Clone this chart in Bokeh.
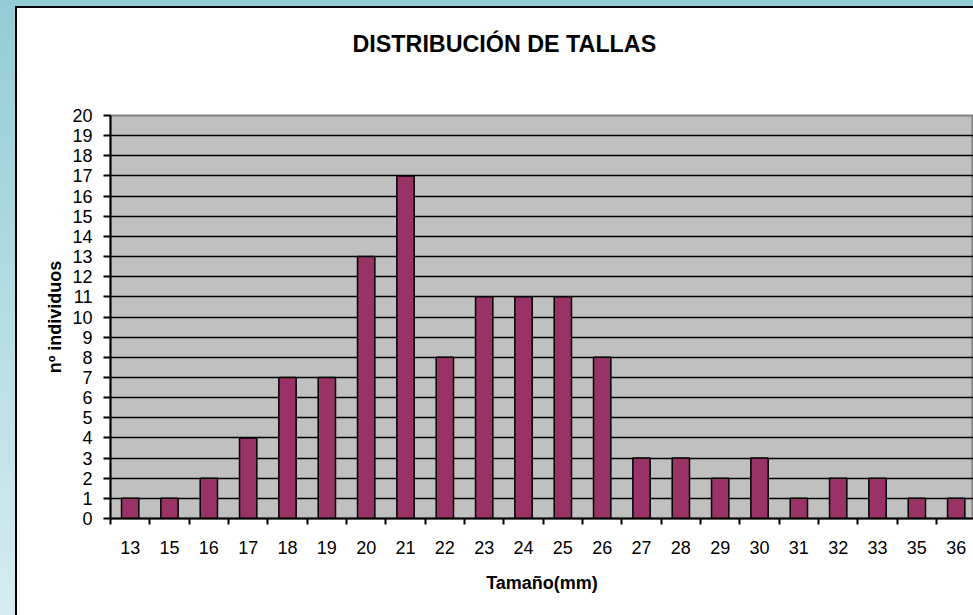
from bokeh.plotting import figure
from bokeh.models import Range1d, FixedTicker, Div, CustomJSTickFormatter, Title
from bokeh.layouts import row, column
from bokeh.embed import file_html
from bokeh.resources import INLINE

# ---- data ----
sizes = ["13", "15", "16", "17", "18", "19", "20", "21", "22", "23", "24",
         "25", "26", "27", "28", "29", "30", "31", "32", "33", "35", "36"]
counts = [1, 1, 2, 4, 7, 7, 13, 17, 8, 11, 11, 11, 8, 3, 3, 2, 3, 1, 2, 2, 1, 1]
y_ticks = list(range(0, 21))

title_text = "DISTRIBUCIÓN DE TALLAS"
x_title = "Tamaño(mm)"
y_title = "nº individuos"

FONT = "Liberation Sans"
n = len(sizes)
centers = [i + 0.5 for i in range(n)]
bounds = list(range(n + 1))

p = figure(width=956, height=607, output_backend="svg", toolbar_location=None,
           x_range=Range1d(0, 21.94), y_range=Range1d(0, 20),
           min_border_left=93, min_border_right=0, min_border_top=106,
           min_border_bottom=97)

p.background_fill_color = "#C0C0C0"
p.border_fill_color = "white"
p.outline_line_color = "#808080"
p.outline_line_width = 2

# spacer between the frame and the title (nearest the frame)
p.add_layout(Title(text=" ", text_font_size="1px", standoff=35), "above")

# main title (outermost)
p.title.text = title_text
p.title.align = "left"
p.title.offset = 242
p.title.standoff = 41
p.title.text_font = FONT
p.title.text_font_size = "23.3px"
p.title.text_font_style = "bold"
p.title.text_color = "black"

# bars
p.vbar(x=centers, top=counts, width=0.44, fill_color="#993366",
       line_color="black", line_width=1.5)

# x axis
xa = p.xaxis[0]
xa.ticker = FixedTicker(ticks=centers, minor_ticks=bounds)
xa.formatter = CustomJSTickFormatter(args=dict(labels=sizes),
                                     code="return labels[Math.floor(tick)];")
xa.major_tick_out = 0
xa.major_tick_in = 0
xa.minor_tick_out = 6
xa.minor_tick_in = 0
xa.minor_tick_line_color = "black"
xa.minor_tick_line_width = 2
xa.axis_line_color = "black"
xa.axis_line_width = 2
xa.major_label_text_font = FONT
xa.major_label_text_font_size = "18px"
xa.major_label_text_color = "black"
xa.major_label_standoff = 16
xa.axis_label = x_title
xa.axis_label_text_font = FONT
xa.axis_label_text_font_size = "18px"
xa.axis_label_text_font_style = "bold"
xa.axis_label_text_color = "black"
xa.axis_label_standoff = 16

# y axis
ya = p.yaxis[0]
ya.ticker = FixedTicker(ticks=y_ticks, minor_ticks=[])
ya.major_tick_out = 7
ya.major_tick_in = 0
ya.major_tick_line_color = "black"
ya.major_tick_line_width = 2
ya.minor_tick_out = 0
ya.minor_tick_in = 0
ya.axis_line_color = "black"
ya.axis_line_width = 2
ya.major_label_text_font = FONT
ya.major_label_text_font_size = "18px"
ya.major_label_text_color = "black"
ya.major_label_standoff = 11
ya.axis_label = y_title
ya.axis_label_text_font = FONT
ya.axis_label_text_font_size = "18px"
ya.axis_label_text_font_style = "bold"
ya.axis_label_text_color = "black"
ya.axis_label_standoff = 4

# grid
p.xgrid.visible = False
p.ygrid.ticker = FixedTicker(ticks=y_ticks, minor_ticks=[])
p.ygrid.grid_line_color = "black"
p.ygrid.grid_line_width = 1.6
p.ygrid.grid_line_alpha = 1.0

left_strip = Div(text="", width=17, height=615, margin=0,
                 styles={"background": "linear-gradient(#000, #000) 15px 6px / 2px 609px no-repeat, linear-gradient(to bottom, #93ccd6, #d5ecf0)"})
top_strip = Div(text="", width=956, height=8, margin=0,
                styles={"background": "linear-gradient(to bottom, #93ccd6 0px, #93ccd6 6px, #000 6px, #000 8px)"})

layout = row(left_strip, column(top_strip, p, spacing=0), spacing=0)

open("out.html", "w").write(file_html(layout, INLINE))
